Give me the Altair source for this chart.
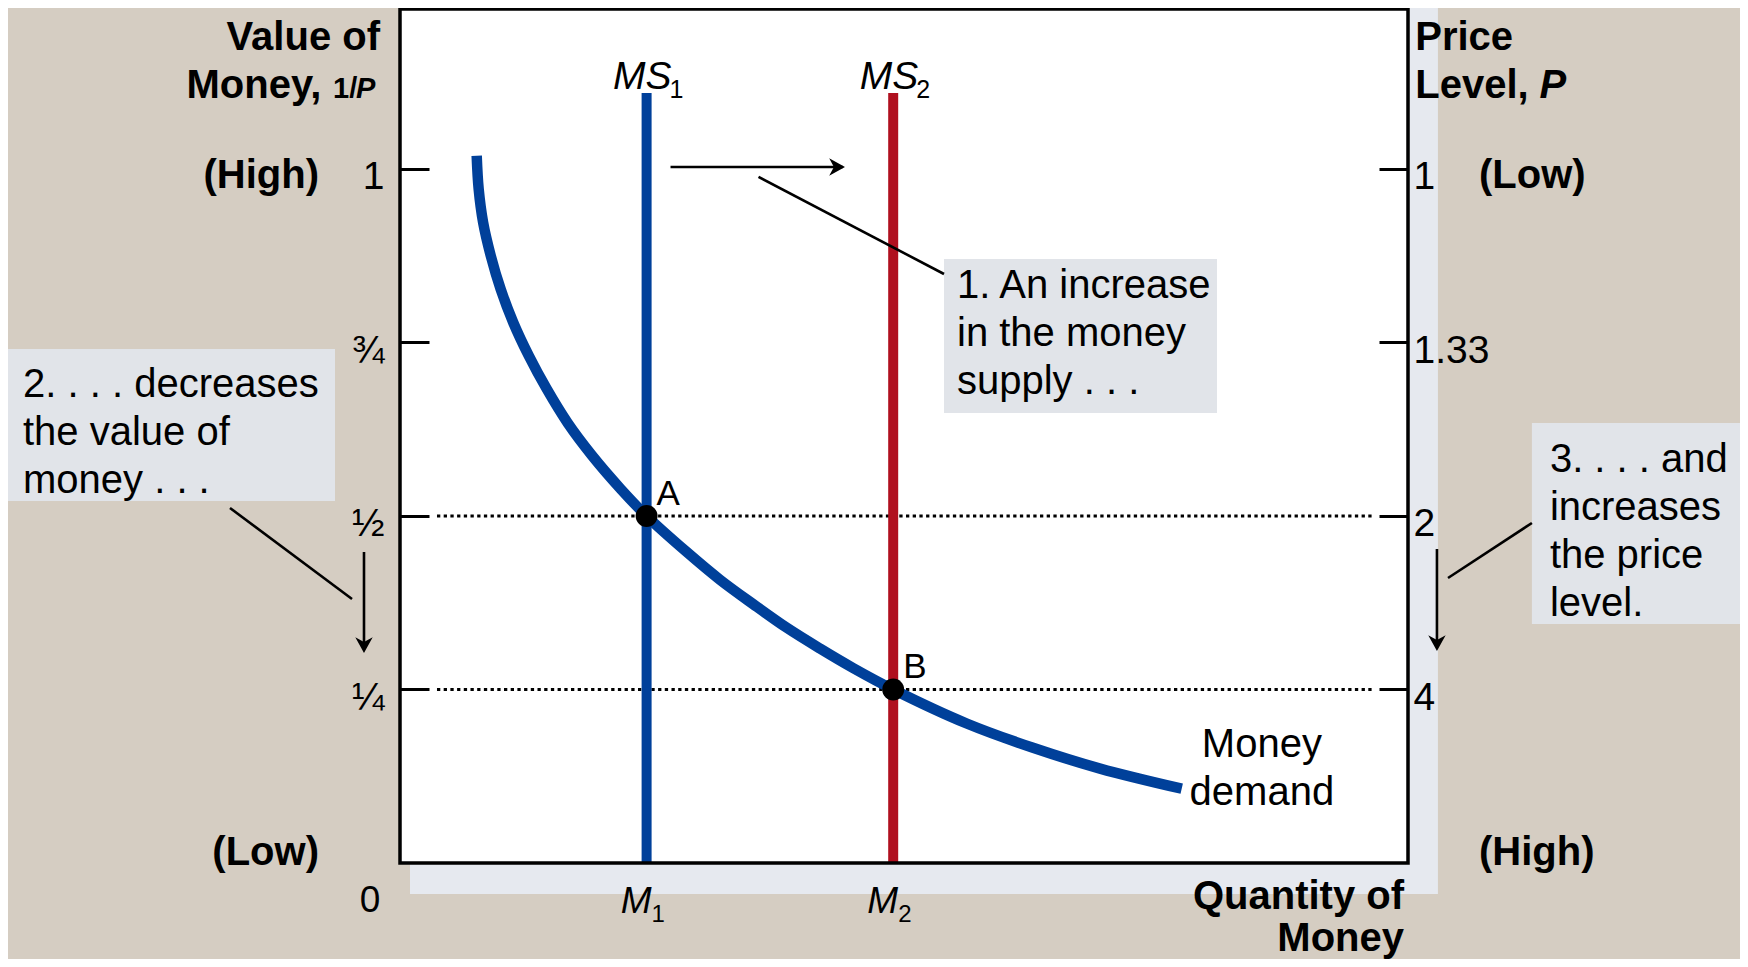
import altair as alt
import pandas as pd

# ---------------- data ----------------
# Money demand curve: quantity of money (M1 = 1, M2 = 2) vs value of money 1/P
demand_q = [0.311, 0.319, 0.337, 0.368, 0.408, 0.459, 0.522, 0.595, 0.680, 0.779, 0.895, 1.0,
            1.163, 1.298, 1.432, 1.568, 1.703, 1.837, 2.0, 2.298, 2.567, 2.839, 3.170]
demand_v = [1.019, 0.971, 0.923, 0.875, 0.827, 0.779, 0.731, 0.683, 0.634, 0.587, 0.539, 0.5,
            0.448, 0.408, 0.373, 0.339, 0.309, 0.281, 0.25, 0.201, 0.166, 0.136, 0.107]

supply_q = [1, 2]
supply_name = ["MS", "MS"]
supply_sub = ["1", "2"]
quantity_name = ["M", "M"]

eq_q = [1, 2]
eq_v = [0.5, 0.25]
eq_label = ["A", "B"]

y_ticks = [1, 0.75, 0.5, 0.25]
left_tick_labels = ["1", "\u00be", "\u00bd", "\u00bc"]
right_tick_labels = ["1", "1.33", "2", "4"]

notes = ["1. An increase\nin the money\nsupply . . .",
         "2. . . . decreases\nthe value of\nmoney . . .",
         "3. . . . and\nincreases\nthe price\nlevel."]

# ---------------- styling ----------------
FONT = "Liberation Sans"
BG = "#d5cdc2"
PANEL = "#e6e9ef"
BOX = "#e1e4e9"
BLUE = "#00409a"
RED = "#b0101f"

X_MAX = 4.0876
Y_MAX = 1.2305
SUPPLY_TOP = 1.1095

xs = alt.Scale(domain=[0, X_MAX], nice=False, zero=False)
ys = alt.Scale(domain=[0, Y_MAX], nice=False, zero=False)


def X(f="x"):
    return alt.X(f"{f}:Q", scale=xs, axis=None)


def Y(f="y"):
    return alt.Y(f"{f}:Q", scale=ys, axis=None)


def text_layer(df, size, weight="normal", style="normal", align="left",
               dx=0, dy=0, line_height=None, color="black"):
    kw = dict(font=FONT, fontSize=size, fontWeight=weight, fontStyle=style,
              align=align, baseline="alphabetic", dx=dx, dy=dy, color=color, clip=False)
    if line_height:
        kw.update(lineBreak="\n", lineHeight=line_height)
    return alt.Chart(df).mark_text(**kw).encode(x=X(), y=Y(), text="t:N")


layers = []

# background panel behind the plot (shadow)
layers.append(alt.Chart(pd.DataFrame({"x": [0.0406], "x2": [4.209], "y": [-0.0447], "y2": [1.2334]}))
              .mark_rect(color=PANEL, clip=False)
              .encode(x=X(), x2="x2:Q", y=Y(), y2="y2:Q"))
# white plot area
layers.append(alt.Chart(pd.DataFrame({"x": [0], "x2": [X_MAX], "y": [0], "y2": [Y_MAX]}))
              .mark_rect(color="white", clip=False)
              .encode(x=X(), x2="x2:Q", y=Y(), y2="y2:Q"))
# annotation boxes
boxes = pd.DataFrame({"x": [2.206, -1.598, 4.590], "x2": [3.313, -0.2636, 5.6],
                      "y": [0.6484, 0.5216, 0.3444], "y2": [0.8703, 0.7406, 0.634]})
layers.append(alt.Chart(boxes).mark_rect(color=BOX, clip=False)
              .encode(x=X(), x2="x2:Q", y=Y(), y2="y2:Q"))

# dotted guide lines at equilibria
layers.append(alt.Chart(pd.DataFrame({"y": eq_v, "x": [0.150, 0.150], "x2": [3.946, 3.946]}))
              .mark_rule(color="black", strokeWidth=3.2, strokeDash=[3.3, 3.4])
              .encode(x=X(), x2="x2:Q", y=Y()))

# money supply lines
sup = pd.DataFrame({"x": supply_q, "sub": supply_sub, "y": [0, 0], "y2": [SUPPLY_TOP] * 2})
layers.append(alt.Chart(sup).mark_rule(strokeWidth=10)
              .encode(x=X(), y=Y(), y2="y2:Q",
                      color=alt.Color("sub:N", scale=alt.Scale(domain=supply_sub, range=[BLUE, RED]),
                                      legend=None)))

# money demand curve
dem = pd.DataFrame({"x": demand_q, "y": demand_v, "i": list(range(len(demand_q)))})
layers.append(alt.Chart(dem).mark_line(color=BLUE, strokeWidth=10.5, interpolate="catmull-rom",
                                       strokeCap="butt")
              .encode(x=X(), y=Y(), order="i:Q"))

# equilibrium points
eq = pd.DataFrame({"x": eq_q, "y": eq_v, "t": eq_label})
layers.append(alt.Chart(eq).mark_circle(color="black", size=480, opacity=1).encode(x=X(), y=Y()))
layers.append(text_layer(eq, 35, dx=10, dy=-11))

# leader lines and arrow shafts
leaders = pd.DataFrame({
    "x": [1.4538, -0.6894, 4.2498, 1.097, -0.146, 4.205],
    "y": [0.9885, 0.5115, 0.4107, 1.0029, 0.4481, 0.4524],
    "x2": [2.206, -0.1946, 4.590, 1.795, -0.146, 4.205],
    "y2": [0.8487, 0.3804, 0.4899, 1.0029, 0.312, 0.315],
})
layers.append(alt.Chart(leaders).mark_rule(color="black", strokeWidth=2.6, clip=False)
              .encode(x=X(), y=Y(), x2="x2:Q", y2="y2:Q"))
# arrowheads
layers.append(alt.Chart(pd.DataFrame({"x": [1.8045], "y": [1.0029]}))
              .mark_point(shape="M0,0L-1,-0.55L-0.7,0L-1,0.55Z", filled=True, color="black",
                          size=1000, opacity=1, clip=False)
              .encode(x=X(), y=Y()))
layers.append(alt.Chart(pd.DataFrame({"x": [-0.146, 4.205], "y": [0.3026, 0.3055]}))
              .mark_point(shape="M0,0L-0.55,-1L0,-0.7L0.55,-1Z", filled=True, color="black",
                          size=1000, opacity=1, clip=False)
              .encode(x=X(), y=Y()))

# note texts
layers.append(text_layer(pd.DataFrame({"x": [2.2587, -1.5288, 4.663], "y": [0.8141, 0.6715, 0.5634],
                                       "t": notes}), 40, line_height=48))

# curve labels
layers.append(text_layer(pd.DataFrame({"x": [3.495], "y": [0.1527], "t": ["Money\ndemand"]}),
                         40, align="center", line_height=48))
ms = pd.DataFrame({"x": supply_q, "y": [1.1153] * 2, "t": supply_name})
layers.append(text_layer(ms, 39, style="italic", align="right", dx=25))
layers.append(text_layer(ms.assign(t=supply_sub), 25, align="left", dx=23, dy=9))
mq = pd.DataFrame({"x": supply_q, "y": [-0.072] * 2, "t": quantity_name})
layers.append(text_layer(mq, 37, style="italic", align="right", dx=5))
layers.append(text_layer(mq.assign(t=supply_sub), 24, align="left", dx=5, dy=9))
layers.append(text_layer(pd.DataFrame({"x": [-0.1217], "y": [-0.0706], "t": ["0"]}), 37, align="center"))

# axis titles
layers.append(text_layer(pd.DataFrame({"x": [-0.0811], "y": [1.1715], "t": ["Value of"]}),
                         40, weight="bold", align="right"))
layers.append(text_layer(pd.DataFrame({"x": [-0.8656], "y": [1.1023], "t": ["Money,"]}),
                         40, weight="bold"))
layers.append(text_layer(pd.DataFrame({"x": [-0.2717], "y": [1.1023], "t": ["1/"]}), 29, weight="bold"))
layers.append(text_layer(pd.DataFrame({"x": [-0.1784], "y": [1.1023], "t": ["P"]}),
                         29, weight="bold", style="italic"))
layers.append(text_layer(pd.DataFrame({"x": [4.117, 4.117], "y": [1.1715, 1.1023], "t": ["Price", "Level,"]}),
                         40, weight="bold"))
layers.append(text_layer(pd.DataFrame({"x": [4.621], "y": [1.1023], "t": ["P"]}),
                         40, weight="bold", style="italic"))
layers.append(text_layer(pd.DataFrame({"x": [-0.3285, -0.3285], "y": [0.9726, -0.0029],
                                       "t": ["(High)", "(Low)"]}), 40, weight="bold", align="right"))
layers.append(text_layer(pd.DataFrame({"x": [4.3755, 4.3755], "y": [0.9726, -0.0029],
                                       "t": ["(Low)", "(High)"]}), 40, weight="bold"))
layers.append(text_layer(pd.DataFrame({"x": [4.0714], "y": [-0.0663], "t": ["Quantity of\nMoney"]}),
                         40, weight="bold", align="right", line_height=42))

# plot frame
layers.append(alt.Chart(pd.DataFrame({"x": [0], "x2": [X_MAX], "y": [0], "y2": [Y_MAX]}))
              .mark_rect(fillOpacity=0, stroke="black", strokeWidth=3.5, clip=False)
              .encode(x=X(), x2="x2:Q", y=Y(), y2="y2:Q"))

main = alt.layer(*layers)


def expr(vals, labels):
    parts = [f"datum.value == {v} ? '{l}'" for v, l in zip(vals, labels)]
    return " : ".join(parts) + " : ''"


axis_common = dict(values=y_ticks, domain=False, grid=False, ticks=True, tickSize=29, tickWidth=3,
                   tickColor="black", offset=-29, labelFont=FONT, labelFontSize=39,
                   labelColor="black", labelOffset=8, labelOverlap=False, labelFlush=False,
                   title=None, zindex=2)
tick_df = pd.DataFrame({"v": y_ticks})
left_axis = (alt.Chart(tick_df).mark_point(opacity=0)
             .encode(y=alt.Y("v:Q", scale=ys,
                             axis=alt.Axis(orient="left", labelPadding=16,
                                           labelExpr=expr(y_ticks, left_tick_labels), **axis_common))))
right_axis = (alt.Chart(tick_df).mark_point(opacity=0)
              .encode(y=alt.Y("v:Q", scale=ys,
                              axis=alt.Axis(orient="right", labelPadding=5,
                                            labelExpr=expr(y_ticks, right_tick_labels), **axis_common))))

chart = (alt.layer(main, left_axis, right_axis)
         .resolve_scale(y="independent")
         .properties(width=1008, height=854,
                     autosize=alt.AutoSizeParams(type="none"),
                     padding={"left": 392, "top": 1, "right": 332, "bottom": 96})
         .configure(background=BG)
         .configure_view(stroke="transparent"))

chart.save("out.html", embed_options={"renderer": "svg", "actions": False})
